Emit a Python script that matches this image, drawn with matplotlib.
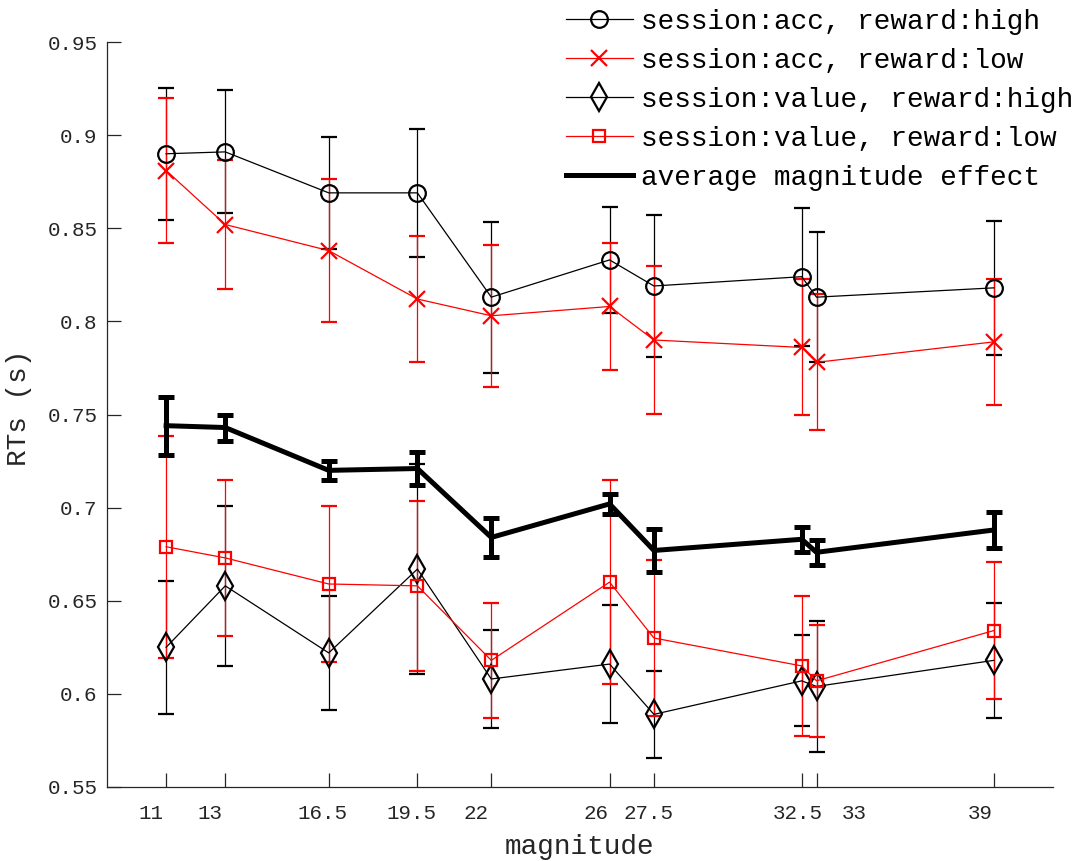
import matplotlib
matplotlib.use("Agg")
import matplotlib.pyplot as plt
import matplotlib.transforms as mtransforms
import numpy as np

plt.rcParams['font.family'] = ['Liberation Mono', 'DejaVu Sans Mono']

# magnitude levels
magnitude = [11, 13, 16.5, 19.5, 22, 26, 27.5, 32.5, 33, 39]
tick_labels = ["11", "13", "16.5", "19.5", "22", "26", "27.5", "32.5", "33", "39"]
# horizontal nudge of each tick label (pixels), as in the original figure
label_dx = [-15, -15, -6, -6, -15, -14, -5, -4, 38, -14]

# session:acc, reward:high
acc_high = [0.890, 0.891, 0.869, 0.869, 0.813, 0.833, 0.819, 0.824, 0.813, 0.818]
acc_high_err = [0.0355, 0.033, 0.030, 0.0345, 0.0405, 0.0285, 0.038, 0.037, 0.035, 0.036]

# session:acc, reward:low
acc_low = [0.881, 0.852, 0.838, 0.812, 0.803, 0.808, 0.790, 0.786, 0.778, 0.789]
acc_low_err = [0.039, 0.0345, 0.0385, 0.034, 0.038, 0.034, 0.0395, 0.0365, 0.0365, 0.034]

# session:value, reward:high
val_high = [0.625, 0.658, 0.622, 0.667, 0.608, 0.616, 0.589, 0.607, 0.604, 0.618]
val_high_err = [0.0357, 0.043, 0.0306, 0.0565, 0.0265, 0.0316, 0.0235, 0.0245, 0.0352, 0.031]

# session:value, reward:low
val_low = [0.679, 0.673, 0.659, 0.658, 0.618, 0.660, 0.630, 0.615, 0.607, 0.634]
val_low_err = [0.0597, 0.042, 0.042, 0.0455, 0.031, 0.0547, 0.042, 0.0374, 0.030, 0.0368]

# average magnitude effect
avg = [0.744, 0.743, 0.720, 0.721, 0.684, 0.702, 0.677, 0.683, 0.676, 0.688]
avg_err = [0.0155, 0.007, 0.005, 0.0088, 0.0104, 0.0055, 0.0117, 0.0068, 0.0068, 0.0098]

fig = plt.figure(figsize=(10.72, 8.61), dpi=100)
ax = fig.add_axes([107/1072, 74/861, 946/1072, 745/861])

thin = 0.9
cap = 5.5
handles = []
c = ax.errorbar(magnitude, acc_high, yerr=acc_high_err, color='black', lw=thin, elinewidth=thin,
                capsize=cap, capthick=thin, marker='o', ms=12, mfc='none', mew=1.6)
handles.append(c[0])
c = ax.errorbar(magnitude, acc_low, yerr=acc_low_err, color='red', lw=thin, elinewidth=thin,
                capsize=cap, capthick=thin, marker='x', ms=11, mew=1.6)
handles.append(c[0])
c = ax.errorbar(magnitude, val_high, yerr=val_high_err, color='black', lw=thin, elinewidth=thin,
                capsize=cap, capthick=thin, marker='d', ms=14, mfc='none', mew=1.6)
handles.append(c[0])
c = ax.errorbar(magnitude, val_low, yerr=val_low_err, color='red', lw=thin, elinewidth=thin,
                capsize=cap, capthick=thin, marker='s', ms=9, mfc='none', mew=1.6)
handles.append(c[0])
c = ax.errorbar(magnitude, avg, yerr=avg_err, color='black', lw=3.6, elinewidth=3.6,
                capsize=5.5, capthick=3.6)
handles.append(c[0])
labels = ['session:acc, reward:high', 'session:acc, reward:low',
          'session:value, reward:high', 'session:value, reward:low',
          'average magnitude effect']

ax.set_xlim(9, 41)
ax.set_ylim(0.55, 0.95)
ax.set_xticks(magnitude)
ax.set_xticklabels(tick_labels)
yt = [0.55, 0.6, 0.65, 0.7, 0.75, 0.8, 0.85, 0.9, 0.95]
ax.set_yticks(yt)
ax.set_yticklabels([f"{v:g}" for v in yt])
ax.tick_params(direction='in', length=10, width=0.9, labelsize=15, color='#262626',
               labelcolor='#262626')
ax.tick_params(axis='x', pad=12)
ax.tick_params(axis='y', pad=7)
for lab, dx in zip(ax.get_xticklabels(), label_dx):
    shift = mtransforms.ScaledTranslation(dx/100, 0, fig.dpi_scale_trans)
    lab.set_transform(lab.get_transform() + shift)

for s in ['top', 'right']:
    ax.spines[s].set_visible(False)
for s in ['left', 'bottom']:
    ax.spines[s].set_linewidth(0.9)
    ax.spines[s].set_color('#262626')

ax.set_xlabel('magnitude', fontsize=20, color='#262626', labelpad=8)
ax.set_ylabel('RTs (s)', fontsize=20, color='#262626')
ax.yaxis.set_label_coords(-0.079, 0.509)

fig.legend(handles, labels, loc='upper left', bbox_to_anchor=(566/1072, 1 - 9/861),
           frameon=False, fontsize=20, handlelength=2.4, handletextpad=0.3,
           labelspacing=0.47, borderpad=0.0, borderaxespad=0.0)

fig.savefig('out.png', dpi=100)
